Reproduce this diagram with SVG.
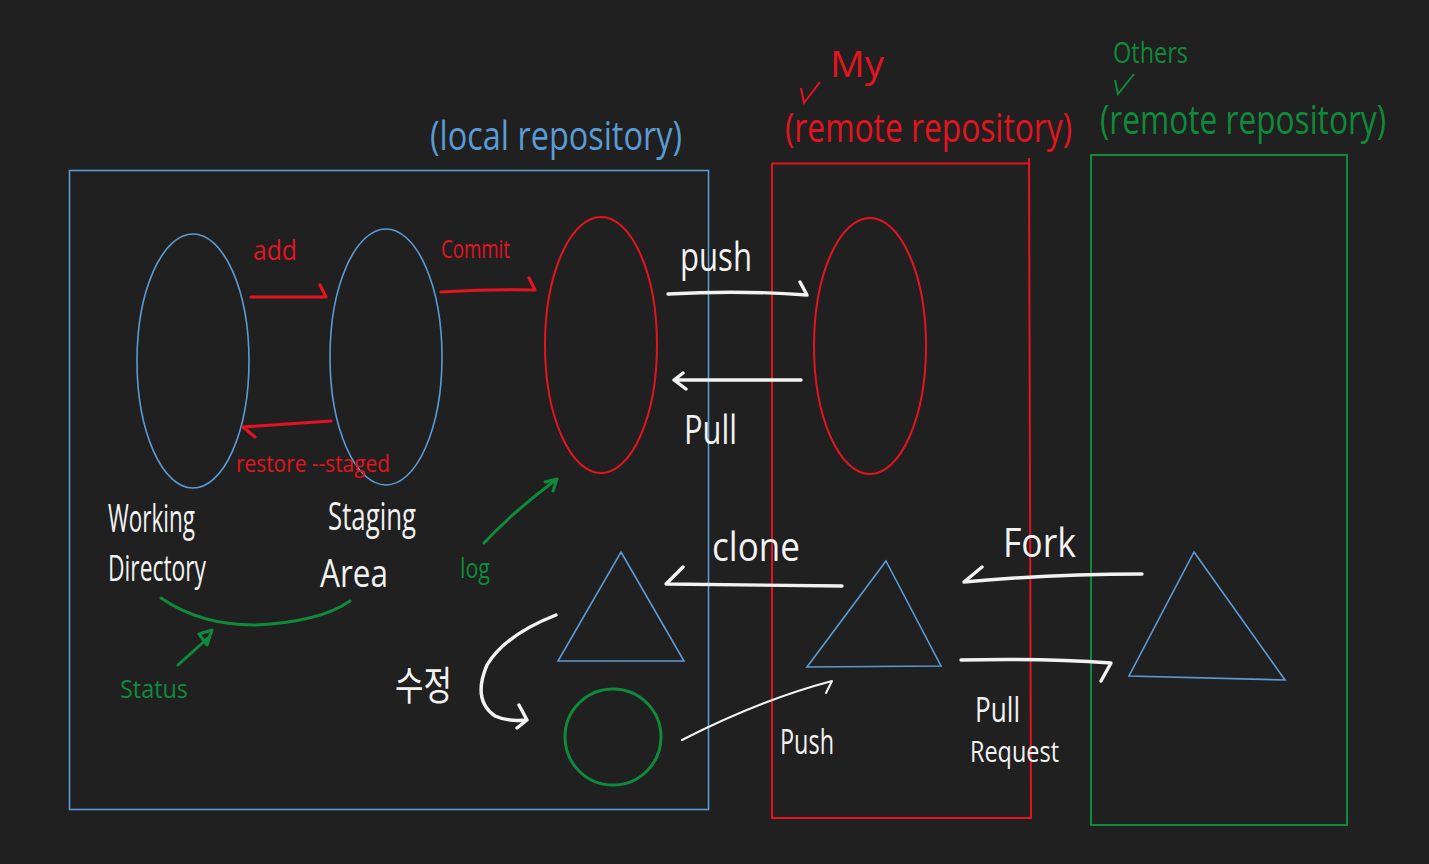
<svg xmlns="http://www.w3.org/2000/svg" width="1429" height="864" viewBox="0 0 1429 864">
<style>
.bg{fill:#202020}
.b{fill:none;stroke:#5b9bd5;stroke-width:1.6}
.r{fill:none;stroke:#e3141f;stroke-width:2}
.g{fill:none;stroke:#0e8a3a;stroke-width:2}
.ra{fill:none;stroke:#e3141f;stroke-width:3.2;stroke-linecap:round;stroke-linejoin:round}
.ga{fill:none;stroke:#0e8a3a;stroke-width:3;stroke-linecap:round;stroke-linejoin:round}
.wa{fill:none;stroke:#f2f2f2;stroke-width:3.4;stroke-linecap:round;stroke-linejoin:round}
.wt{fill:none;stroke:#f2f2f2;stroke-width:2;stroke-linecap:round;stroke-linejoin:round}
text{font-family:"Open Sans","Liberation Sans","Noto Sans CJK KR",sans-serif;font-weight:400}
.tb{fill:#5b9bd5}
.tr{fill:#e3141f}
.tg{fill:#0e8a3a}
.tw{fill:#f2f2f2}
</style>
<rect class="bg" x="0" y="0" width="1429" height="864"/>

<g id="local-repository">
<rect class="b" x="69.5" y="170.5" width="639" height="639"/>
<text class="tb" x="430" y="150" font-size="40" textLength="252" lengthAdjust="spacingAndGlyphs">(local repository)</text>
</g>

<g id="my-remote-repository">
<path class="r" d="M772 163.5 H1030 M772 163 V818 H1031 L1029 158"/>
<text class="tr" x="830" y="77" font-size="36" textLength="54" lengthAdjust="spacingAndGlyphs">My</text>
<path class="r" d="M801 88 L804 103 L820 82" stroke-width="1.6"/>
<text class="tr" x="785" y="142" font-size="40" textLength="287" lengthAdjust="spacingAndGlyphs">(remote repository)</text>
</g>

<g id="others-remote-repository">
<rect class="g" x="1091" y="155" width="256" height="670"/>
<text class="tg" x="1113" y="63" font-size="30" textLength="75" lengthAdjust="spacingAndGlyphs">Others</text>
<path class="g" d="M1115 80 L1118 94 L1134 74" stroke-width="1.6"/>
<text class="tg" x="1100" y="134" font-size="40" textLength="286" lengthAdjust="spacingAndGlyphs">(remote repository)</text>
</g>

<g id="working-directory">
<ellipse class="b" cx="193" cy="361" rx="56" ry="127"/>
<text class="tw" x="108" y="532" font-size="38" textLength="87" lengthAdjust="spacingAndGlyphs">Working</text>
<text class="tw" x="108" y="581" font-size="36" textLength="98" lengthAdjust="spacingAndGlyphs">Directory</text>
</g>

<g id="staging-area">
<ellipse class="b" cx="386" cy="357" rx="56" ry="128"/>
<text class="tw" x="328" y="530" font-size="38" textLength="88" lengthAdjust="spacingAndGlyphs">Staging</text>
<text class="tw" x="320" y="587" font-size="38" textLength="68" lengthAdjust="spacingAndGlyphs">Area</text>
</g>

<g id="local-commits">
<ellipse class="r" cx="601" cy="345" rx="56" ry="128"/>
</g>

<g id="remote-commits">
<ellipse class="r" cx="870" cy="346" rx="56" ry="128"/>
</g>

<g id="local-triangle">
<path class="b" d="M621 552 L684 661 L558 661 Z"/>
</g>

<g id="modified-circle">
<circle cx="613" cy="737" r="48" fill="none" stroke="#0e8a3a" stroke-width="3"/>
</g>

<g id="remote-triangle">
<path class="b" d="M886 561 L941 666 L807 667 Z"/>
</g>

<g id="others-triangle">
<path class="b" d="M1194 552 L1285 680 L1129 676 Z"/>
</g>

<g id="connectors">
<path class="ra" d="M251 297 L326 297 L320 285"/>
<text class="tr" x="253" y="260" font-size="28" textLength="44" lengthAdjust="spacingAndGlyphs">add</text>
<path class="ra" d="M441 292 Q490 289 535 290 L529 278"/>
<text class="tr" x="441" y="258" font-size="26" textLength="69" lengthAdjust="spacingAndGlyphs">Commit</text>
<path class="ra" d="M331 421 L243 427 L255 437"/>
<text class="tr" x="236" y="472" font-size="24" textLength="154" lengthAdjust="spacingAndGlyphs">restore --staged</text>

<path class="wa" d="M668 294 Q740 290 807 295 L800 282"/>
<text class="tw" x="680" y="271" font-size="40" textLength="72" lengthAdjust="spacingAndGlyphs">push</text>
<path class="wa" d="M801 380 L674 380 M683 373 L674 380 L686 389"/>
<text class="tw" x="684" y="444" font-size="40" textLength="53" lengthAdjust="spacingAndGlyphs">Pull</text>

<path class="wa" d="M842 586 L666 584 L683 567"/>
<text class="tw" x="712" y="561" font-size="40" textLength="88" lengthAdjust="spacingAndGlyphs">clone</text>
<path class="wa" d="M1142 574 Q1050 574 964 582 L982 567"/>
<text class="tw" x="1003" y="557" font-size="40" textLength="73" lengthAdjust="spacingAndGlyphs">Fork</text>
<path class="wa" d="M961 660 Q1040 658 1111 663 L1101 681"/>
<text class="tw" x="975" y="722" font-size="34" textLength="45" lengthAdjust="spacingAndGlyphs">Pull</text>
<text class="tw" x="970" y="762" font-size="30" textLength="89" lengthAdjust="spacingAndGlyphs">Request</text>

<path class="wt" d="M682 740 Q760 700 832 681 L826 693"/>
<text class="tw" x="780" y="754" font-size="34" textLength="54" lengthAdjust="spacingAndGlyphs">Push</text>

<path class="wa" d="M556 615 Q505 635 487 665 Q472 700 495 716 Q508 722 527 720 M519 705 L527 720 L517 728" stroke-width="3"/>
<text class="tw" x="395" y="700" font-size="40" textLength="57" lengthAdjust="spacingAndGlyphs">수정</text>

<path class="ga" d="M484 543 Q515 510 557 479 M545 482 L557 479 L553 491"/>
<text class="tg" x="460" y="578" font-size="28" textLength="30" lengthAdjust="spacingAndGlyphs">log</text>

<path class="ga" d="M161 598 Q200 625 255 625 Q320 622 350 601"/>
<path class="ga" d="M178 665 L209 637 M199 634 L212 630 L207 645 Z"/>
<text class="tg" x="120" y="698" font-size="26" textLength="68" lengthAdjust="spacingAndGlyphs">Status</text>
</g>
</svg>
